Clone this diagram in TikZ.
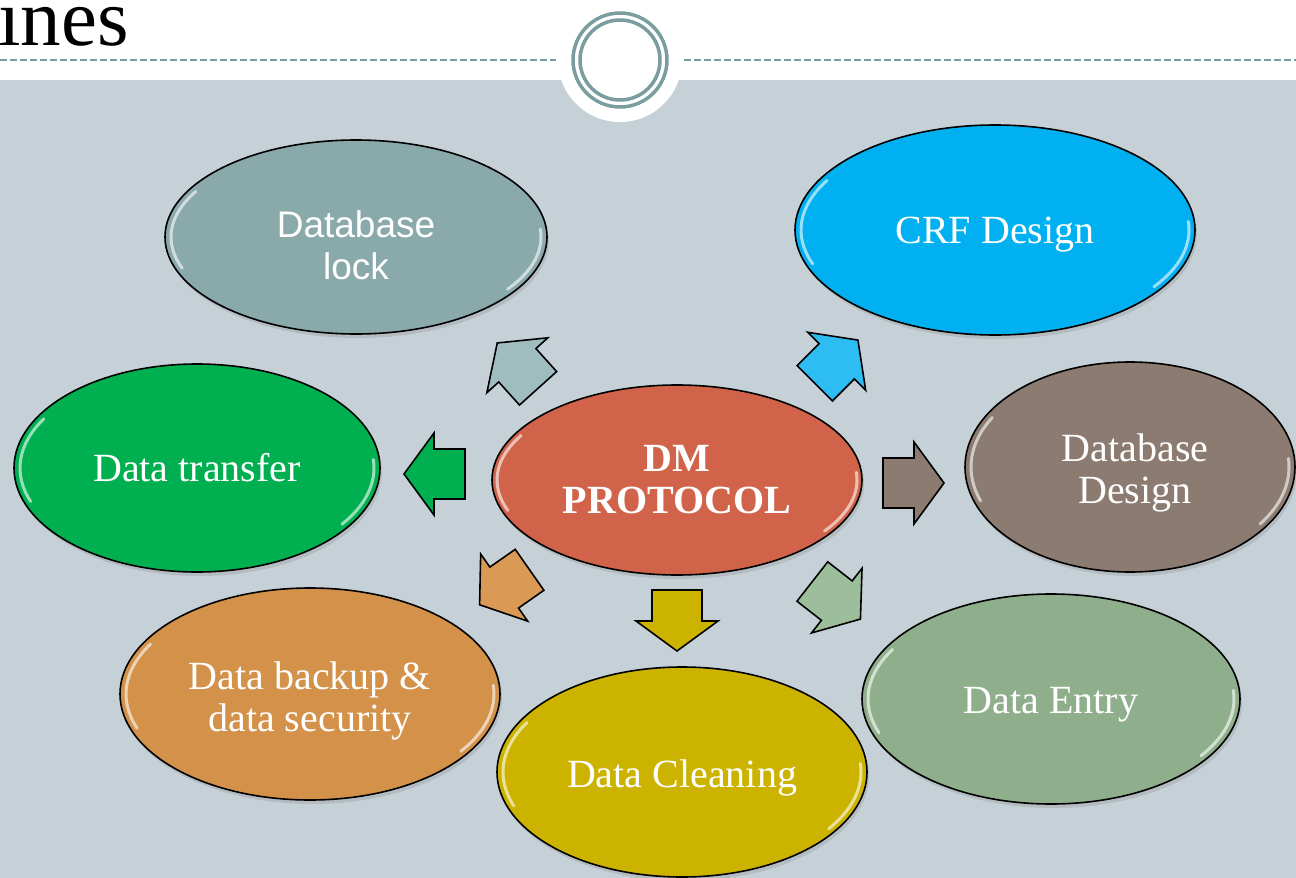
\documentclass[tikz,border=0pt]{standalone}
\usepackage{fontspec}
\setmainfont{Liberation Serif}
\newfontfamily\arialf{Liberation Sans}
\usetikzlibrary{shapes.geometric,shadows}
\definecolor{bgc}{HTML}{C6D1D7}
\definecolor{ringc}{HTML}{7A9E9F}
\definecolor{lockc}{HTML}{8AA9AB}
\definecolor{crfc}{HTML}{00B0F0}
\definecolor{transc}{HTML}{00B050}
\definecolor{dbdc}{HTML}{8B7B70}
\definecolor{backc}{HTML}{D3914A}
\definecolor{cleanc}{HTML}{CCB300}
\definecolor{entryc}{HTML}{8FAF8C}
\definecolor{centc}{HTML}{D1634A}
\definecolor{ga}{HTML}{9FBDBE}
\definecolor{ba}{HTML}{2EBDF2}
\definecolor{gra}{HTML}{00B050}
\definecolor{bra}{HTML}{8B7B70}
\definecolor{oa}{HTML}{DA9A55}
\definecolor{ya}{HTML}{CCB300}
\definecolor{pa}{HTML}{9DBE9A}
\begin{document}
\begin{tikzpicture}[x=1pt,y=-1pt,
  bub/.style={ellipse, draw=black, line width=1.6pt, inner sep=0pt,
    drop shadow={opacity=0.25, shadow xshift=2pt, shadow yshift=-4pt}},
  txt/.style={inner sep=0pt, text=white, align=center, font=\fontsize{40}{42}\selectfont},
  gloss/.style={white, opacity=0.6, line width=3pt, line cap=round},
  arr/.style={draw=black, line width=1.6pt, line join=miter},
  dashline/.style={ringc, line width=1.2pt, dash pattern=on 7pt off 3pt}]
\useasboundingbox (0,0) rectangle (1296,878);
\clip (0,0) rectangle (1296,878);
% backgrounds
\fill[white] (0,0) rectangle (1296,80);
\fill[bgc] (0,80) rectangle (1296,878);
\node[anchor=base west, inner sep=0pt, font=\fontsize{81}{83}\selectfont] (title) at (-2,45) {ines};
\draw[dashline] (0,60) -- (556,60);
\draw[dashline] (684,60) -- (1296,60);
\fill[white] (620,60) circle[radius=62pt];
\draw[ringc, line width=3.5pt] (620,60) circle[radius=47pt];
\draw[ringc, line width=3.5pt] (620,60) circle[radius=40pt];
% bubbles
\node[bub, fill=lockc, minimum width=382pt, minimum height=194pt] (lock) at (356,237) {};
\node[bub, fill=crfc, minimum width=400pt, minimum height=210pt] (crf) at (995,230) {};
\node[bub, fill=transc, minimum width=366pt, minimum height=208pt] (transfer) at (197,468) {};
\node[bub, fill=dbdc, minimum width=330pt, minimum height=210pt] (dbd) at (1130,467) {};
\node[bub, fill=backc, minimum width=380pt, minimum height=212pt] (backup) at (310,694) {};
\node[bub, fill=cleanc, minimum width=370pt, minimum height=210pt] (clean) at (682,772) {};
\node[bub, fill=entryc, minimum width=378pt, minimum height=210pt] (entry) at (1051,699) {};
\node[bub, fill=centc, minimum width=370pt, minimum height=190pt] (hub) at (677,480) {};
% gloss highlights
\foreach \n/\a/\b in {lock/185/91, crf/194/99, transfer/177/98, dbd/159/99, backup/184/100, clean/179/99, entry/183/99, hub/180/89}{
  \draw[gloss, shift={(\n.center)}] (150:\a pt and \b pt) arc[start angle=150, end angle=200, x radius=\a pt, y radius=\b pt];
  \draw[gloss, shift={(\n.center)}] (-35:\a pt and \b pt) arc[start angle=-35, end angle=5, x radius=\a pt, y radius=\b pt];
}
% texts
\node[txt, font=\arialf\fontsize{37}{42}\selectfont] (lock-t) at ([yshift=-8pt]lock.center) {Database\\lock};
\node[txt] (crf-t) at ([yshift=-5pt]crf.center) {CRF Design};
\node[txt] (transfer-t) at (transfer.center) {Data transfer};
\node[txt] (dbd-t) at ([xshift=5pt,yshift=-6pt]dbd.center) {Database\\Design};
\node[txt] (backup-t) at ([yshift=-7pt]backup.center) {Data backup \&\\data security};
\node[txt] (clean-t) at ([yshift=-6pt]clean.center) {Data Cleaning};
\node[txt] (entry-t) at ([yshift=-6pt]entry.center) {Data Entry};
\node[txt, font=\bfseries\fontsize{40}{42}\selectfont] (hub-t) at (hub.center) {DM\\PROTOCOL};
% block arrows
\foreach \cx/\cy/\ang/\col in {518/366/132/ga, 836/362/45/ba, 435/474/180/gra, 913/483/0/bra, 505/587/215/oa, 677/620/270/ya, 836/600/322/pa}{
  \draw[arr, fill=\col, shift={(\cx,\cy)}, rotate=\ang] (-30,-25) -- (1,-25) -- (1,-41) -- (31,0) -- (1,41) -- (1,25) -- (-30,25) -- cycle;
}
\end{tikzpicture}
\end{document}
